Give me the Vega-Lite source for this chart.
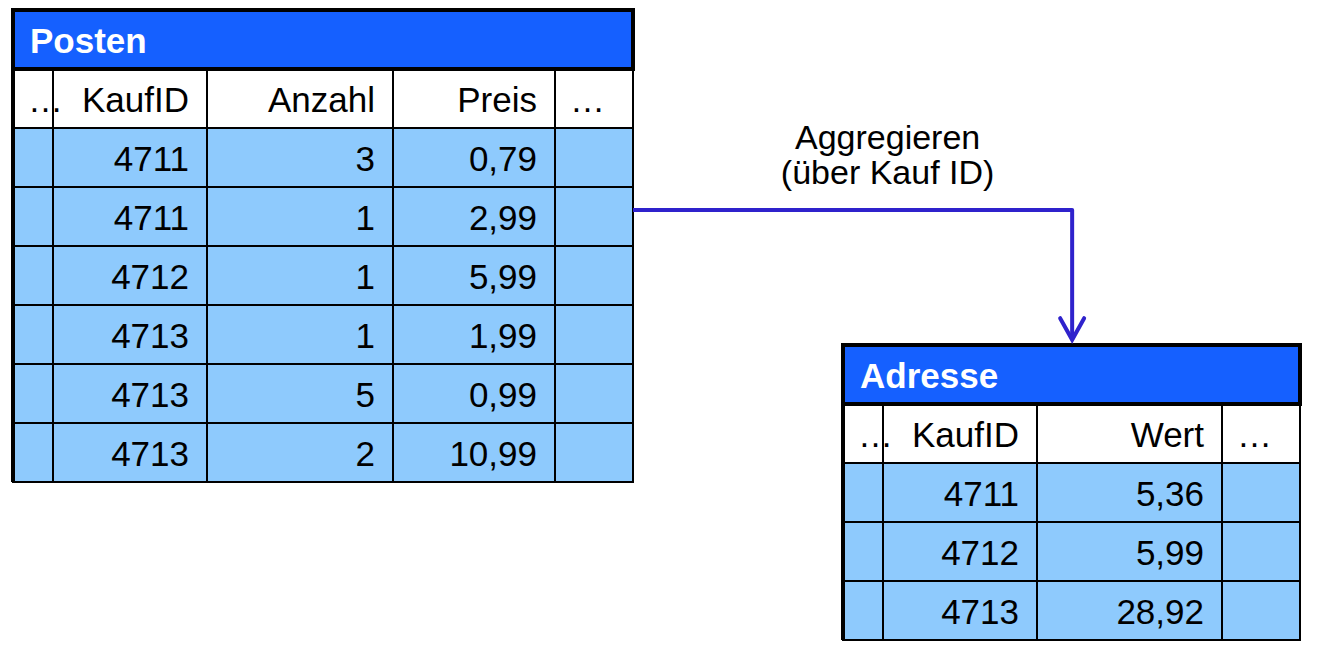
{
  "$schema": "https://vega.github.io/schema/vega-lite/v6.json",
  "width": 1320,
  "height": 656,
  "autosize": {"type": "none"},
  "padding": 0,
  "background": "white",
  "datasets": {
    "cells": [
      {"t": "Posten", "kind": "head", "c0": 0, "c1": 1, "r": 1, "text": "…"},
      {"t": "Posten", "kind": "head", "c0": 1, "c1": 2, "r": 1, "text": "KaufID"},
      {"t": "Posten", "kind": "head", "c0": 2, "c1": 3, "r": 1, "text": "Anzahl"},
      {"t": "Posten", "kind": "head", "c0": 3, "c1": 4, "r": 1, "text": "Preis"},
      {"t": "Posten", "kind": "head", "c0": 4, "c1": 5, "r": 1, "text": "…"},
      {"t": "Posten", "kind": "body", "c0": 0, "c1": 1, "r": 2, "text": ""},
      {"t": "Posten", "kind": "body", "c0": 1, "c1": 2, "r": 2, "text": "4711"},
      {"t": "Posten", "kind": "body", "c0": 2, "c1": 3, "r": 2, "text": "3"},
      {"t": "Posten", "kind": "body", "c0": 3, "c1": 4, "r": 2, "text": "0,79"},
      {"t": "Posten", "kind": "body", "c0": 4, "c1": 5, "r": 2, "text": ""},
      {"t": "Posten", "kind": "body", "c0": 0, "c1": 1, "r": 3, "text": ""},
      {"t": "Posten", "kind": "body", "c0": 1, "c1": 2, "r": 3, "text": "4711"},
      {"t": "Posten", "kind": "body", "c0": 2, "c1": 3, "r": 3, "text": "1"},
      {"t": "Posten", "kind": "body", "c0": 3, "c1": 4, "r": 3, "text": "2,99"},
      {"t": "Posten", "kind": "body", "c0": 4, "c1": 5, "r": 3, "text": ""},
      {"t": "Posten", "kind": "body", "c0": 0, "c1": 1, "r": 4, "text": ""},
      {"t": "Posten", "kind": "body", "c0": 1, "c1": 2, "r": 4, "text": "4712"},
      {"t": "Posten", "kind": "body", "c0": 2, "c1": 3, "r": 4, "text": "1"},
      {"t": "Posten", "kind": "body", "c0": 3, "c1": 4, "r": 4, "text": "5,99"},
      {"t": "Posten", "kind": "body", "c0": 4, "c1": 5, "r": 4, "text": ""},
      {"t": "Posten", "kind": "body", "c0": 0, "c1": 1, "r": 5, "text": ""},
      {"t": "Posten", "kind": "body", "c0": 1, "c1": 2, "r": 5, "text": "4713"},
      {"t": "Posten", "kind": "body", "c0": 2, "c1": 3, "r": 5, "text": "1"},
      {"t": "Posten", "kind": "body", "c0": 3, "c1": 4, "r": 5, "text": "1,99"},
      {"t": "Posten", "kind": "body", "c0": 4, "c1": 5, "r": 5, "text": ""},
      {"t": "Posten", "kind": "body", "c0": 0, "c1": 1, "r": 6, "text": ""},
      {"t": "Posten", "kind": "body", "c0": 1, "c1": 2, "r": 6, "text": "4713"},
      {"t": "Posten", "kind": "body", "c0": 2, "c1": 3, "r": 6, "text": "5"},
      {"t": "Posten", "kind": "body", "c0": 3, "c1": 4, "r": 6, "text": "0,99"},
      {"t": "Posten", "kind": "body", "c0": 4, "c1": 5, "r": 6, "text": ""},
      {"t": "Posten", "kind": "body", "c0": 0, "c1": 1, "r": 7, "text": ""},
      {"t": "Posten", "kind": "body", "c0": 1, "c1": 2, "r": 7, "text": "4713"},
      {"t": "Posten", "kind": "body", "c0": 2, "c1": 3, "r": 7, "text": "2"},
      {"t": "Posten", "kind": "body", "c0": 3, "c1": 4, "r": 7, "text": "10,99"},
      {"t": "Posten", "kind": "body", "c0": 4, "c1": 5, "r": 7, "text": ""},
      {"t": "Adresse", "kind": "head", "c0": 6, "c1": 7, "r": 11, "text": "…"},
      {"t": "Adresse", "kind": "head", "c0": 7, "c1": 8, "r": 11, "text": "KaufID"},
      {"t": "Adresse", "kind": "head", "c0": 8, "c1": 9, "r": 11, "text": "Wert"},
      {"t": "Adresse", "kind": "head", "c0": 9, "c1": 10, "r": 11, "text": "…"},
      {"t": "Adresse", "kind": "body", "c0": 6, "c1": 7, "r": 12, "text": ""},
      {"t": "Adresse", "kind": "body", "c0": 7, "c1": 8, "r": 12, "text": "4711"},
      {"t": "Adresse", "kind": "body", "c0": 8, "c1": 9, "r": 12, "text": "5,36"},
      {"t": "Adresse", "kind": "body", "c0": 9, "c1": 10, "r": 12, "text": ""},
      {"t": "Adresse", "kind": "body", "c0": 6, "c1": 7, "r": 13, "text": ""},
      {"t": "Adresse", "kind": "body", "c0": 7, "c1": 8, "r": 13, "text": "4712"},
      {"t": "Adresse", "kind": "body", "c0": 8, "c1": 9, "r": 13, "text": "5,99"},
      {"t": "Adresse", "kind": "body", "c0": 9, "c1": 10, "r": 13, "text": ""},
      {"t": "Adresse", "kind": "body", "c0": 6, "c1": 7, "r": 14, "text": ""},
      {"t": "Adresse", "kind": "body", "c0": 7, "c1": 8, "r": 14, "text": "4713"},
      {"t": "Adresse", "kind": "body", "c0": 8, "c1": 9, "r": 14, "text": "28,92"},
      {"t": "Adresse", "kind": "body", "c0": 9, "c1": 10, "r": 14, "text": ""},
      {"t": "Posten", "kind": "title", "c0": 0, "c1": 5, "r": 0, "text": "Posten"},
      {"t": "Adresse", "kind": "title", "c0": 6, "c1": 10, "r": 10, "text": "Adresse"}
    ],
    "frames": [
      {"t": "Posten", "c": 0, "r0": 0, "r1": 8},
      {"t": "Adresse", "c": 6, "r0": 10, "r1": 15}
    ],
    "arrow": [
      {"step": 1, "c": 5, "r": 3.39},
      {"step": 2, "c": 8.19, "r": 3.39},
      {"step": 3, "c": 8.19, "r": 5.59}
    ],
    "label": [
      {"c": 7.03, "r": 2.36, "text": "Aggregieren\n(über Kauf ID)"}
    ]
  },
  "layer": [
    {
      "data": {"name": "cells"},
      "transform": [{"calculate": "datum.r + 1", "as": "r1"}],
      "mark": {"type": "rect", "stroke": "black"},
      "encoding": {
        "x": {"field": "c0", "type": "quantitative", "axis": null,
          "scale": {"domain": [0, 1, 2, 3, 4, 5, 6, 7, 8, 9, 10],
            "range": [13, 53, 207, 393, 555, 633, 843, 883, 1037, 1222, 1300], "zero": false, "nice": false}},
        "x2": {"field": "c1"},
        "y": {"field": "r", "type": "quantitative", "axis": null,
          "scale": {"domain": [0, 8, 10, 15], "range": [10, 482, 345, 640], "zero": false, "nice": false}},
        "y2": {"field": "r1"},
        "fill": {"field": "kind", "type": "nominal", "legend": null,
          "scale": {"domain": ["title", "head", "body"], "range": ["#1560FF", "#FFFFFF", "#8ECAFD"]}},
        "strokeWidth": {"condition": {"test": "datum.kind == 'title'", "value": 4}, "value": 2}
      }
    },
    {
      "data": {"name": "frames"},
      "mark": {"type": "rule", "color": "black", "strokeWidth": 4},
      "encoding": {
        "x": {"field": "c", "type": "quantitative"},
        "y": {"field": "r0", "type": "quantitative"},
        "y2": {"field": "r1"}
      }
    },
    {
      "data": {"name": "cells"},
      "transform": [
        {"filter": "datum.kind == 'title'"},
        {"calculate": "datum.r + 1", "as": "r1"}
      ],
      "mark": {"type": "text", "align": "left", "baseline": "alphabetic", "dx": 17, "dy": -16,
        "font": "Liberation Sans", "fontSize": 35, "fontWeight": "bold", "color": "white"},
      "encoding": {
        "x": {"field": "c0", "type": "quantitative"},
        "y": {"field": "r1", "type": "quantitative"},
        "text": {"field": "text"}
      }
    },
    {
      "data": {"name": "cells"},
      "transform": [
        {"filter": "datum.text == '…'"},
        {"calculate": "datum.r + 1", "as": "r1"}
      ],
      "mark": {"type": "text", "align": "left", "baseline": "alphabetic", "dx": 15, "dy": -16,
        "font": "Liberation Sans", "fontSize": 35, "color": "black"},
      "encoding": {
        "x": {"field": "c0", "type": "quantitative"},
        "y": {"field": "r1", "type": "quantitative"},
        "text": {"field": "text"}
      }
    },
    {
      "data": {"name": "cells"},
      "transform": [
        {"filter": "datum.kind != 'title' && datum.text != '…' && datum.text != ''"},
        {"calculate": "datum.r + 1", "as": "r1"}
      ],
      "mark": {"type": "text", "align": "right", "baseline": "alphabetic", "dx": -18, "dy": -16,
        "font": "Liberation Sans", "fontSize": 35, "color": "black"},
      "encoding": {
        "x": {"field": "c1", "type": "quantitative"},
        "y": {"field": "r1", "type": "quantitative"},
        "text": {"field": "text"}
      }
    },
    {
      "data": {"name": "arrow"},
      "mark": {"type": "line", "color": "#2F22CC", "strokeWidth": 4, "strokeJoin": "round"},
      "encoding": {
        "x": {"field": "c", "type": "quantitative"},
        "y": {"field": "r", "type": "quantitative"},
        "order": {"field": "step"}
      }
    },
    {
      "data": {"name": "arrow"},
      "transform": [{"filter": "datum.step == 3"}],
      "mark": {"type": "point", "shape": "M-1,-1.8L0,0L1,-1.8", "filled": false, "size": 576,
        "color": "#2F22CC", "strokeWidth": 4, "strokeCap": "round", "opacity": 1},
      "encoding": {
        "x": {"field": "c", "type": "quantitative"},
        "y": {"field": "r", "type": "quantitative"}
      }
    },
    {
      "data": {"name": "label"},
      "mark": {"type": "text", "align": "center", "baseline": "alphabetic", "lineBreak": "\n",
        "lineHeight": 35, "font": "Liberation Sans", "fontSize": 34, "color": "black"},
      "encoding": {
        "x": {"field": "c", "type": "quantitative"},
        "y": {"field": "r", "type": "quantitative"},
        "text": {"field": "text"}
      }
    }
  ],
  "config": {
    "view": {"stroke": null}
  }
}
